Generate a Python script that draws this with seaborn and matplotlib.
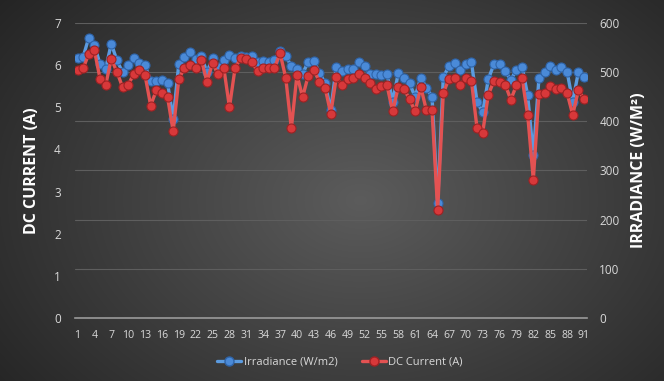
import numpy as np
import pandas as pd
import matplotlib
matplotlib.use("Agg")
import matplotlib.pyplot as plt
from matplotlib.lines import Line2D
import seaborn as sns

# Daily samples
samples = list(range(1, 92))

dc_current = [
    5.88, 5.92, 6.27, 6.35, 5.68, 5.52, 6.15, 5.84, 5.48, 5.52,
    5.80, 5.88, 5.76, 5.04, 5.40, 5.34, 5.24, 4.43, 5.67, 5.93,
    6.00, 5.92, 6.12, 5.61, 6.05, 5.78, 5.93, 5.00, 5.93, 6.17,
    6.15, 6.07, 5.85, 5.92, 5.93, 5.94, 6.28, 5.70, 4.50, 5.77,
    5.24, 5.75, 5.89, 5.60, 5.46, 4.85, 5.72, 5.52, 5.68, 5.70,
    5.79, 5.70, 5.57, 5.43, 5.50, 5.52, 4.90, 5.48, 5.44, 5.19,
    4.90, 5.48, 4.93, 4.93, 2.56, 5.34, 5.67, 5.70, 5.52, 5.70,
    5.63, 4.50, 4.40, 5.30, 5.62, 5.59, 5.54, 5.18, 5.52, 5.69,
    4.82, 3.28, 5.32, 5.33, 5.51, 5.43, 5.45, 5.34, 4.82, 5.40,
    5.20,
]

irradiance = [
    528, 531, 570, 556, 516, 507, 558, 524, 500, 514,
    528, 518, 514, 482, 483, 484, 478, 405, 517, 531,
    540, 526, 532, 500, 528, 510, 524, 534, 528, 532,
    530, 532, 520, 522, 521, 524, 542, 532, 513, 507,
    497, 521, 522, 499, 477, 423, 511, 503, 506, 506,
    521, 512, 497, 497, 494, 496, 440, 498, 489, 477,
    450, 489, 468, 450, 233, 490, 512, 518, 504, 516,
    520, 440, 418, 486, 516, 516, 502, 484, 505, 511,
    453, 331, 488, 501, 513, 504, 511, 501, 440, 500,
    490,
]

x_ticks = list(range(1, 92, 3))
current_ticks = list(range(0, 8))
irradiance_ticks = list(range(0, 700, 100))

df = pd.DataFrame({"sample": samples, "current": dc_current, "irradiance": irradiance})

sns.set_style("dark")
plt.rcParams["font.family"] = ["Open Sans", "DejaVu Sans"]

BLUE = "#4a8ad8"
BLUE_LINE = "#5b9be0"
RED = "#d8383a"
RED_LINE = "#e35252"
TXT = "#d9d9d9"

fig = plt.figure(figsize=(6.64, 3.81), dpi=100)

# Radial grey background
bg = fig.add_axes([0, 0, 1, 1], zorder=-10)
yy, xx = np.mgrid[0:381, 0:664]
r = np.sqrt(((xx - 360) / 420.0) ** 2 + ((yy - 200) / 300.0) ** 2)
shade = np.clip(0.36 - 0.20 * r, 0.14, 0.36)
bg.imshow(np.dstack([shade] * 3), aspect="auto", extent=[0, 1, 0, 1])
bg.set_axis_off()

ax = fig.add_axes([0.1125, 0.1654, 0.7712, 0.7743])
ax2 = ax.twinx()
ax.set_zorder(ax2.get_zorder() + 1)
ax.patch.set_visible(False)
ax2.patch.set_visible(False)

# Irradiance on the right-hand axis
sns.lineplot(data=df, x="sample", y="irradiance", ax=ax2, color=BLUE_LINE,
             linewidth=2.4, marker="o", markersize=6.5, markerfacecolor=BLUE,
             markeredgecolor="#2f64a8", markeredgewidth=0.8, legend=False)
sns.scatterplot(data=df.assign(irradiance=df["irradiance"] + 2.5), x="sample", y="irradiance",
                ax=ax2, color="#8fc0f5", s=5, linewidth=0, alpha=0.8, legend=False)

# DC current on the left-hand axis
sns.lineplot(data=df, x="sample", y="current", ax=ax, color=RED_LINE,
             linewidth=2.4, marker="o", markersize=6.5, markerfacecolor=RED,
             markeredgecolor="#9e2224", markeredgewidth=0.8, legend=False)
sns.scatterplot(data=df.assign(current=df["current"] + 0.03), x="sample", y="current",
                ax=ax, color="#f29a9a", s=5, linewidth=0, alpha=0.8, legend=False)

ax.set_xlim(0.5, 91.5)
ax.set_ylim(0, 7)
ax2.set_ylim(0, 600)
ax.set_xticks(x_ticks)
ax.set_xticklabels([str(t) for t in x_ticks])
ax.set_yticks(current_ticks)
ax2.set_yticks(irradiance_ticks)

ax.grid(False)
ax2.grid(True, axis="y", color="#5e5e5e", linewidth=0.8)
ax2.grid(False, axis="x")
ax.set_axisbelow(True)

for a in (ax, ax2):
    for s in a.spines.values():
        s.set_visible(False)
    a.tick_params(length=0, colors=TXT, labelsize=8)
ax2.spines["bottom"].set_visible(True)
ax2.spines["bottom"].set_color("#9a9a9a")
ax2.spines["bottom"].set_linewidth(1.2)

ax.tick_params(axis="x", pad=9, labelsize=7.6)
ax.tick_params(axis="y", pad=10, labelsize=8.5)
ax2.tick_params(axis="y", pad=9, labelsize=8.5)

ax.set_xlabel("")
ax.set_ylabel("DC CURRENT (A)", color="white", fontsize=11.5, fontweight="bold", labelpad=10)
ax2.set_ylabel("IRRADIANCE (W/M²)", color="white", fontsize=11.5, fontweight="bold", labelpad=8)

handles = [
    Line2D([0], [0], color=BLUE_LINE, linewidth=2.4, marker="o", markersize=6.5,
           markerfacecolor=BLUE, markeredgecolor="#2f64a8"),
    Line2D([0], [0], color=RED_LINE, linewidth=2.4, marker="o", markersize=6.5,
           markerfacecolor=RED, markeredgecolor="#9e2224"),
]
fig.legend(handles, ["Irradiance (W/m2)", "DC Current (A)"], loc="center",
           bbox_to_anchor=(0.512, 0.05), ncol=2, frameon=False, fontsize=8,
           labelcolor=TXT, handlelength=2.2, handletextpad=0.2, columnspacing=2.2)

fig.savefig("out.png", dpi=100)
